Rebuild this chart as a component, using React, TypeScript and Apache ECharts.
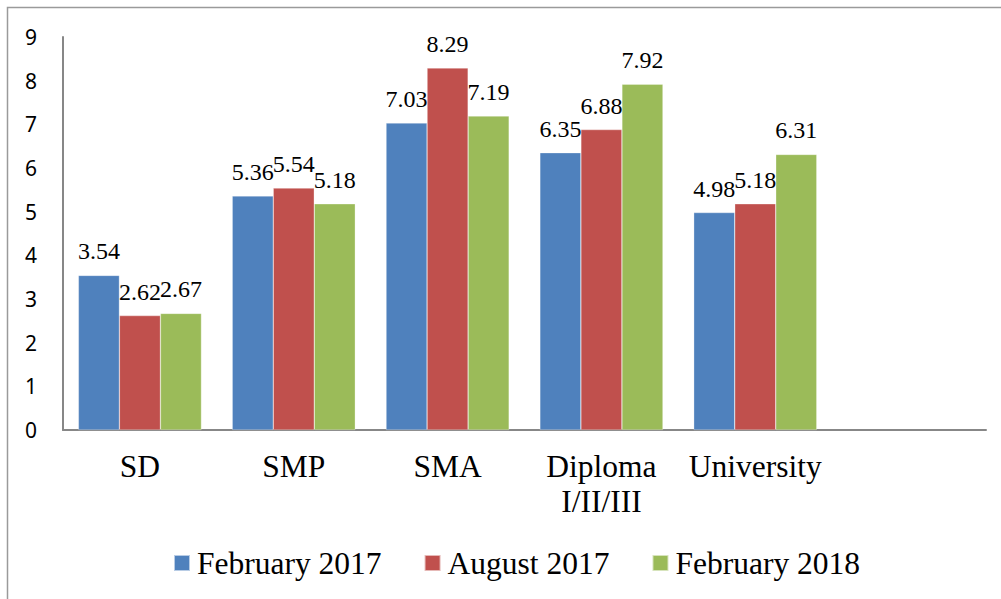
import React, { useEffect, useRef } from "react";
import * as echarts from "echarts";

const categories = ["SD", "SMP", "SMA", "Diploma\nI/II/III", "University", ""];
const seriesNames = ["February 2017", "August 2017", "February 2018"];
const feb2017 = [3.54, 5.36, 7.03, 6.35, 4.98, null];
const aug2017 = [2.62, 5.54, 8.29, 6.88, 5.18, null];
const feb2018 = [2.67, 5.18, 7.19, 7.92, 6.31, null];
const yTicks = { min: 0, max: 9, interval: 1 };
const colors = ["#4F81BD", "#C0504D", "#9BBB59"];

export default function App() {
  const ref = useRef<HTMLDivElement>(null);
  useEffect(() => {
    document.body.style.margin = "0";
    if (!ref.current) return;
    const chart = echarts.init(ref.current, undefined, { renderer: "svg" });
    const serif = "'Liberation Serif', 'Times New Roman', serif";
    const mk = (name: string, data: (number | null)[], color: string) => ({
      name,
      type: "bar",
      data: data.map((v) => (v === null ? "-" : v)),
      barGap: "0%",
      barCategoryGap: "20%",
      itemStyle: { color, borderColor: "rgba(255,255,255,0.6)", borderWidth: 0.5 },
      label: {
        show: true,
        position: "top",
        distance: 12,
        color: "#000",
        fontFamily: serif,
        fontSize: 24,
        formatter: (p: any) => Number(p.value).toFixed(2),
      },
    });
    chart.setOption({
      animation: false,
      color: colors,
      grid: { left: 63, top: 37, right: 15, bottom: 169, containLabel: false },
      graphic: [
        {
          type: "rect",
          shape: { x: 7.5, y: 7.5, width: 1000, height: 600 },
          style: { fill: "none", stroke: "#9a9a9a", lineWidth: 1.5 },
          silent: true,
        },
      ],
      legend: {
        left: 173,
        top: 547,
        padding: 0,
        itemWidth: 16,
        itemHeight: 16,
        itemGap: 42,
        icon: "rect",
        data: seriesNames,
        textStyle: {
          fontFamily: serif,
          fontSize: 31.5,
          color: "#000",
          padding: [0, 0, 0, 2],
        },
      },
      xAxis: {
        type: "category",
        data: categories,
        axisTick: { show: false },
        axisLine: { lineStyle: { color: "#878787", width: 2 } },
        axisLabel: {
          color: "#000",
          fontFamily: serif,
          fontSize: 31.5,
          lineHeight: 35,
          margin: 19,
          interval: 0,
        },
      },
      yAxis: {
        type: "value",
        min: yTicks.min,
        max: yTicks.max,
        interval: yTicks.interval,
        splitLine: { show: false },
        axisTick: { show: false },
        axisLine: { show: true, lineStyle: { color: "#878787", width: 2 } },
        axisLabel: {
          color: "#000",
          fontFamily: "'Noto Sans', sans-serif",
          fontSize: 21,
          margin: 26,
        },
      },
      series: [
        mk(seriesNames[0], feb2017, colors[0]),
        mk(seriesNames[1], aug2017, colors[1]),
        mk(seriesNames[2], feb2018, colors[2]),
      ],
    });
    return () => chart.dispose();
  }, []);
  return <div ref={ref} style={{ width: 1001, height: 599 }} />;
}
